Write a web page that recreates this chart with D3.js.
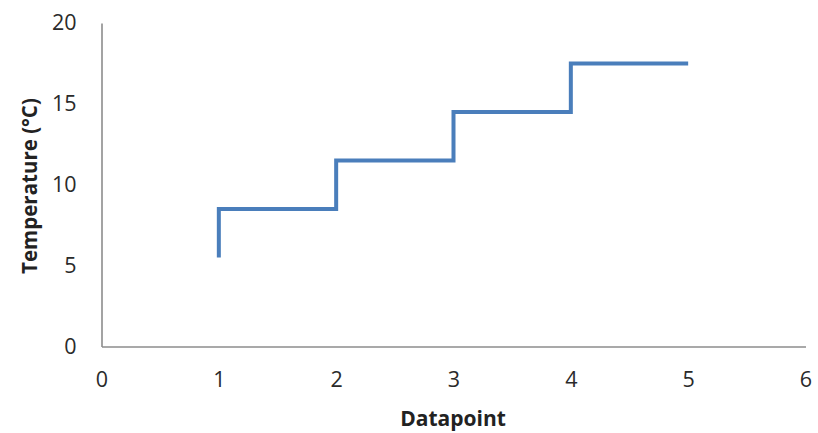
<!DOCTYPE html>
<html>
<head>
<meta charset="utf-8">
<script src="https://cdn.jsdelivr.net/npm/d3@7"></script>
<style>
  html, body { margin: 0; padding: 0; background: #fff; }
  svg { display: block; }
</style>
</head>
<body>
<svg id="chart" width="818" height="433"></svg>
<script>
// Data
const stepX = [1, 1, 2, 2, 3, 3, 4, 4, 5];
const stepY = [5.5, 8.5, 8.5, 11.5, 11.5, 14.5, 14.5, 17.5, 17.5];
const xTicks = [0, 1, 2, 3, 4, 5, 6];
const yTicks = [0, 5, 10, 15, 20];
const xTitle = "Datapoint";
const yTitle = "Temperature (°C)";

const svg = d3.select("#chart");
const font = "'Open Sans', 'Liberation Sans', sans-serif";

const x = d3.scaleLinear().domain([0, 6]).range([101.5, 805.5]);
const y = d3.scaleLinear().domain([0, 20]).range([346.5, 23]);

// Axes
const xAxis = svg.append("g")
  .attr("transform", `translate(0,${y(0)})`)
  .call(d3.axisBottom(x).tickValues(xTicks).tickSize(0).tickPadding(25).tickFormat(d3.format("d")));
const yAxis = svg.append("g")
  .attr("transform", `translate(${x(0)},0)`)
  .call(d3.axisLeft(y).tickValues(yTicks).tickSize(0).tickPadding(25).tickFormat(d3.format("d")));

[xAxis, yAxis].forEach(g => {
  g.select(".domain").attr("stroke", "#8c8c8c").attr("stroke-width", 1.6);
  g.selectAll("text").attr("font-family", font).attr("font-size", 21.5).attr("fill", "#2a2a2a");
});

// Line
const pts = stepX.map((d, i) => [d, stepY[i]]);
svg.append("path")
  .datum(pts)
  .attr("fill", "none")
  .attr("stroke", "#4a7ebb")
  .attr("stroke-width", 4)
  .attr("stroke-linejoin", "miter")
  .attr("d", d3.line().x(d => x(d[0])).y(d => y(d[1])));

// Titles
svg.append("text")
  .attr("x", 453).attr("y", 426)
  .attr("text-anchor", "middle")
  .attr("font-family", font).attr("font-size", 21).attr("font-weight", "bold")
  .attr("fill", "#222")
  .text(xTitle);

svg.append("text")
  .attr("transform", "translate(37,186) rotate(-90)")
  .attr("text-anchor", "middle")
  .attr("font-family", font).attr("font-size", 20.5).attr("font-weight", "bold")
  .attr("fill", "#222")
  .text(yTitle);
</script>
</body>
</html>
